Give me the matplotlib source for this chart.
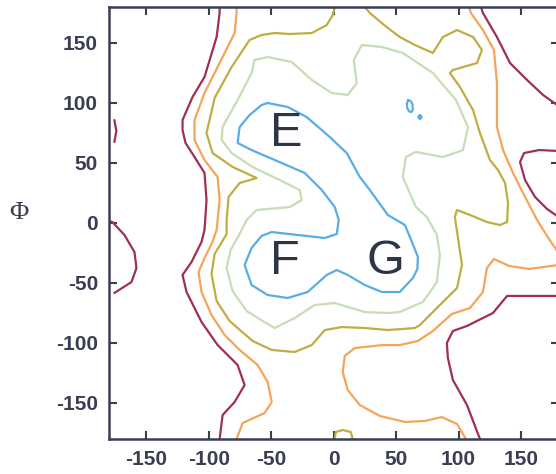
import matplotlib
matplotlib.use("Agg")
import matplotlib.pyplot as plt

plt.rcParams['font.family'] = ['Liberation Sans', 'DejaVu Sans']
plt.rcParams['axes.unicode_minus'] = False

maroon_a_phi = [-91.4, -91.4, -93.8, -103.5, -113.1, -121.1, -121.1, -118.7, -111.5, -103.5, -101.9,
                -103.5, -105.9, -113.9, -121.1, -117.9, -105.9, -93.0, -77.0, -71.4, -79.4, -89.0, -91.4]
maroon_a_psi = [180, 175, 155, 121.7, 105, 85.8, 77.5, 66.7, 55, 41.7, 19.2,
                -5.8, -15.8, -32.5, -43.3, -57.5, -82.5, -101.7, -118.3, -135, -149.2, -160, -180]
maroon_b_phi = [-175.7, -174.1, -175.7]
maroon_b_psi = [85.8, 76.7, 67.5]
maroon_c_phi = [-180, -177.3, -167.6, -159.6, -158.0, -162.0, -175.7]
maroon_c_psi = [1.7, 0.8, -10, -24.2, -37.5, -49.2, -58.3]
maroon_d_phi = [117.9, 119.5, 130.7, 141.2, 154.8, 167.6, 180]
maroon_d_psi = [180, 175, 155, 133.3, 119.2, 106.7, 97.5]
maroon_e_phi = [180, 164.4, 152.4, 149.2, 153.2, 161.2, 170.8, 180]
maroon_e_psi = [60, 60.8, 58.3, 50.8, 35.8, 21.7, 11.7, 5]
maroon_f_phi = [180, 138.8, 127.5, 106.7, 95.4, 90.6, 91.4, 95.4, 106.7, 117.1]
maroon_f_psi = [-60.8, -60.8, -75, -85.8, -90, -100, -112.5, -130.8, -151.7, -180]

orange_a_phi = [-77.8, -77.8, -79.4, -93.0, -103.5, -111.5, -111.5, -103.5, -93.0, -91.4, -93.8, -97.1,
                -103.5, -108.3, -105.9, -97.9, -87.4, -75.4, -61.0, -52.9, -49.7, -55.3, -73.0, -77.8]
orange_a_psi = [180, 175, 158.3, 130, 108.3, 85.8, 69.2, 52.5, 38.3, 19.2, -5.8, -15.8,
                -29.2, -40.8, -57.5, -76.7, -93.3, -105.8, -118.3, -132.5, -149.2, -158.3, -166.7, -180]
orange_b_phi = [108.3, 109.9, 119.5, 128.3, 130.7, 130.7, 135.6, 143.6, 151.6, 162.8, 170.8, 180]
orange_b_psi = [180, 175, 160.8, 144.2, 116.7, 80, 60.8, 41.7, 25, 2.5, -10.8, -25]
orange_c_phi = [180, 156.4, 140.4, 128.3, 122.7, 119.5, 109.1, 94.6, 79.4, 67.4, 52.9, 39.3, 16.8, 8.8,
                7.2, 11.2, 20.9, 36.9, 56.9, 73.0, 86.6, 98.7, 105.9]
orange_c_psi = [-35, -38.3, -35.8, -30, -37.5, -57.5, -70.8, -75.8, -90, -98.3, -101.7, -101.7, -104.2, -110.8,
                -124.2, -139.2, -151.7, -160.8, -165.8, -165, -161.7, -167.5, -180]

olive_a_phi = [0.8, -0.8, -5.6, -17.6, -35.3, -47.3, -57.8, -67.4, -81.8, -95.4, -101.9, -97.1, -81.0, -61.8,
               -75.4, -84.2, -85.8, -85.8, -95.4, -97.9, -93.8, -83.4, -65.0, -49.7, -31.3, -17.6, -7.2, 6.4,
               24.9, 43.3, 65.0, 69.0, 85.0, 98.7, 102.7, 99.4, 97.0, 98.7, 109.1, 122.7, 133.1, 138.8, 139.6,
               137.2, 131.5, 125.1, 117.1, 111.5, 101.1, 93.0, 95.4, 114.7, 118.7, 111.5, 98.7, 87.4, 79.4,
               65.0, 52.9, 43.3, 28.9, 24.9]
olive_a_psi = [180, 173.3, 165, 158.3, 157.5, 158.3, 156.7, 152.5, 130, 104.2, 75, 58.3, 46.7, 37.5,
               33.3, 21.7, 2.5, -9.2, -25.8, -42.5, -65, -81.7, -98.3, -105.8, -107.5, -101.7, -89.2, -86.7,
               -87.5, -89.2, -87.5, -85, -68.3, -54.2, -35, -11.7, 5, 10.8, 6.7, 0.8, -1.7, 0.8, 16.7,
               33.3, 44.2, 52.5, 75, 94.2, 113.3, 125, 127.5, 133.3, 144.2, 155, 160.8, 155, 141.7,
               148.3, 155, 162.5, 175, 180]
olive_b_phi = [0.8, 1.6, 7.2, 13.6, 15.2]
olive_b_psi = [-180, -174.2, -172.5, -174.2, -180]

green_phi = [-63.4, -52.9, -33.7, -17.6, -1.6, 11.2, 18.4, 16.0, 22.5, 38.5, 55.3, 79.4, 97.9, 107.5,
             103.5, 87.4, 65.8, 57.8, 55.3, 65.8, 74.6, 82.6, 85.0, 82.6, 71.4, 52.9, 43.3, 24.9, 0.8,
             -15.2, -31.3, -47.3, -56.9, -69.8, -81.0, -85.8, -82.6, -75.4, -69.8, -61.8, -35.3, -25.7,
             -27.3, -43.3, -65.0, -81.8, -89.8, -89.0, -77.0, -65.8, -63.4]
green_psi = [135.8, 138.3, 134.2, 119.2, 108.3, 106.7, 116.7, 135.8, 148.3, 146.7, 141.7, 125, 102.5, 80,
             60.8, 55, 59.2, 55, 38.3, 13.3, 5, -10, -26.7, -49.2, -65.8, -74.2, -75, -74.2, -66.7,
             -68.3, -79.2, -87.5, -81.7, -73.3, -56.7, -37.5, -22.5, -9.2, 2.5, 10.8, 13.3, 19.2,
             27.5, 35.8, 46.7, 58.3, 69.2, 80, 102.5, 125, 135.8]

blue_phi = [-52.9, -36.9, -21.7, -3.2, 10.4, 20.9, 28.9, 43.3, 57.0, 62.6, 67.4, 67.0, 63.4, 52.9, 38.5,
            24.9, 11.2, 2.4, -5.6, -20.9, -36.9, -52.9, -65.8, -71.4, -65.8, -57.8, -49.7, -28.9, -7.2,
            2.4, 4.0, 0.8, -9.6, -23.3, -47.3, -65.8, -77.0, -75.4, -67.4, -57.8, -52.9]
blue_psi = [100, 96.7, 88.3, 71.7, 58.3, 38.3, 27.5, 6.7, -1.7, -15.8, -28.3, -38.3, -45.8, -57.5, -57.5,
            -51.7, -43.3, -39.2, -43.3, -57.5, -62.5, -60, -51.7, -35, -20.8, -10.8, -7.5, -10, -12.5,
            -9.2, 2.5, 13.3, 27.5, 41.7, 52.5, 60.8, 66.7, 80, 90, 98.3, 100]
blue_dot1_phi = [59.6, 61.8, 63.2, 63.2, 62.2, 60.4, 58.8, 58.6, 59.6]
blue_dot1_psi = [102.5, 101.5, 98.5, 94, 92.4, 93, 96, 99.5, 102.5]
blue_dot2_phi = [69.0, 70.4, 69.0, 67.6, 69.0]
blue_dot2_psi = [90, 88.3, 86.6, 88.3, 90]

basin_labels = ['E', 'F', 'G']
basin_phi = [-37.7, -39.3, 41.7]
basin_psi = [74.2, -32.5, -32.5]

ticks = [-150, -100, -50, 0, 50, 100, 150]

c_maroon = '#9e2f57'
c_orange = '#f5a55a'
c_olive = '#bfae42'
c_green = '#c6ddb6'
c_blue = '#58ade6'
c_axis = '#3b3e52'

fig = plt.figure(figsize=(5.56, 4.74), dpi=100)
ax = fig.add_axes([109 / 556, 35 / 474, 449.5 / 556, 432 / 474])

segments = [
    (maroon_a_phi, maroon_a_psi, c_maroon), (maroon_b_phi, maroon_b_psi, c_maroon),
    (maroon_c_phi, maroon_c_psi, c_maroon), (maroon_d_phi, maroon_d_psi, c_maroon),
    (maroon_e_phi, maroon_e_psi, c_maroon), (maroon_f_phi, maroon_f_psi, c_maroon),
    (orange_a_phi, orange_a_psi, c_orange), (orange_b_phi, orange_b_psi, c_orange),
    (orange_c_phi, orange_c_psi, c_orange),
    (olive_a_phi, olive_a_psi, c_olive), (olive_b_phi, olive_b_psi, c_olive),
    (green_phi, green_psi, c_green),
    (blue_phi, blue_psi, c_blue), (blue_dot1_phi, blue_dot1_psi, c_blue),
    (blue_dot2_phi, blue_dot2_psi, c_blue),
]
for xs, ys, col in segments:
    ax.plot(xs, ys, color=col, lw=1.6, solid_joinstyle='round', solid_capstyle='round')

for lab, x, y in zip(basin_labels, basin_phi, basin_psi):
    ax.text(x, y, lab, fontsize=35, color='#2c3647', ha='center', va='center')

ax.set_xlim(-180, 180)
ax.set_ylim(-180, 180)
ax.set_xticks(ticks)
ax.set_yticks(ticks)
ax.set_xticklabels([str(t) for t in ticks], fontweight='bold')
ax.set_yticklabels([str(t) for t in ticks], fontweight='bold')
ax.tick_params(direction='in', top=True, right=True, length=6, width=1.5,
               color=c_axis, labelcolor=c_axis, labelsize=15, pad=8)
for sp in ax.spines.values():
    sp.set_color(c_axis)
    sp.set_linewidth(1.8)

fig.text(19 / 556, 1 - 213 / 474, 'Φ', fontsize=19, family='Liberation Serif',
         color=c_axis, ha='center', va='center')

fig.savefig('out.png', dpi=100)
